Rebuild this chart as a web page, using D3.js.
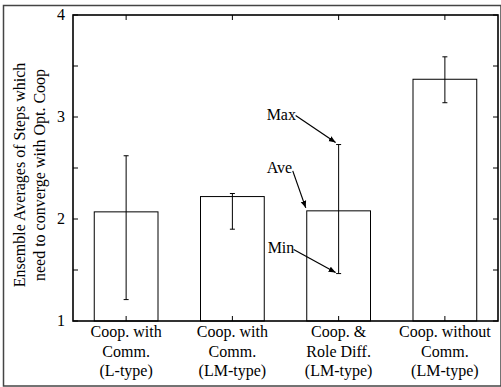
<!DOCTYPE html>
<html>
<head>
<meta charset="utf-8">
<script src="https://cdn.jsdelivr.net/npm/d3@7"></script>
<style>
  body { margin: 0; background: #fff; }
  svg { display: block; font-family: "Liberation Serif", "DejaVu Serif", serif; }
</style>
</head>
<body>
<div id="chart"></div>
<script>
// category labels, one array of lines per bar
const categories = [
  ["Coop. with", "Comm.", "(L-type)"],
  ["Coop. with", "Comm.", "(LM-type)"],
  ["Coop. &", "Role Diff.", "(LM-type)"],
  ["Coop. without", "Comm.", "(LM-type)"]
]
const aveSteps = [2.07, 2.22, 2.08, 3.37]
const maxSteps = [2.62, 2.25, 2.73, 3.59]
const minSteps = [1.21, 1.90, 1.465, 3.14]
const yTicks = [1, 1.5, 2, 2.5, 3, 3.5, 4]
const yTickLabels = ["1", "", "2", "", "3", "", "4"]
const yTitle = ["Ensemble Averages of Steps which", "need to converge with Opt. Coop"]
// annotations point at the third bar
const noteBar = 2

const width = 501, height = 387
const margin = {top: 15, right: 3, bottom: 66, left: 73}

const svg = d3.select("#chart").append("svg")
  .attr("width", width)
  .attr("height", height)

const idx = d3.range(categories.length)
const x = d3.scaleBand(idx, [margin.left, width - margin.right]).padding(0)
const y = d3.scaleLinear([1, 4], [height - margin.bottom, margin.top])
const barW = x.bandwidth() * 0.6
const cx = i => x(i) + x.bandwidth() / 2

svg.append("defs").append("marker")
  .attr("id", "arrow")
  .attr("viewBox", "0 0 10 10")
  .attr("refX", 10).attr("refY", 5)
  .attr("markerWidth", 7).attr("markerHeight", 7)
  .attr("markerUnits", "userSpaceOnUse")
  .attr("orient", "auto")
  .append("path")
    .attr("d", "M0,1L10,5L0,9z")
    .attr("fill", "black")

// outer frame
svg.append("rect")
  .attr("x", 3.5).attr("y", 5.5)
  .attr("width", width - 3.5).attr("height", height - 6.5)
  .attr("fill", "none")
  .attr("stroke", "#444")
  .attr("stroke-width", 1.5)

// bars
svg.append("g")
  .selectAll("rect")
  .data(idx)
  .join("rect")
    .attr("x", i => cx(i) - barW / 2)
    .attr("y", i => y(aveSteps[i]))
    .attr("width", barW)
    .attr("height", i => y(1) - y(aveSteps[i]))
    .attr("fill", "white")
    .attr("stroke", "black")
    .attr("stroke-width", 1)

// error bars
const err = svg.append("g")
  .attr("stroke", "black")
  .attr("stroke-width", 1)
err.selectAll("line.v")
  .data(idx)
  .join("line")
    .attr("class", "v")
    .attr("x1", cx).attr("x2", cx)
    .attr("y1", i => y(maxSteps[i])).attr("y2", i => y(minSteps[i]))
for (const vals of [maxSteps, minSteps]) {
  err.append("g").selectAll("line")
    .data(idx)
    .join("line")
      .attr("x1", i => cx(i) - 2.5).attr("x2", i => cx(i) + 2.5)
      .attr("y1", i => y(vals[i])).attr("y2", i => y(vals[i]))
}

// plot frame and ticks
const frame = svg.append("g")
  .attr("stroke", "black")
frame.append("rect")
  .attr("x", margin.left).attr("y", margin.top)
  .attr("width", width - margin.left - margin.right)
  .attr("height", height - margin.top - margin.bottom)
  .attr("fill", "none")
  .attr("stroke-width", 1.6)

const tickLen = 5
const x0 = margin.left, x1 = width - margin.right
const yB = y(1), yT = y(4)
frame.append("g").selectAll("line")
  .data(yTicks)
  .join("line")
    .attr("x1", x0).attr("x2", x0 + tickLen)
    .attr("y1", d => y(d)).attr("y2", d => y(d))
frame.append("g").selectAll("line")
  .data(yTicks)
  .join("line")
    .attr("x1", x1).attr("x2", x1 - tickLen)
    .attr("y1", d => y(d)).attr("y2", d => y(d))
frame.append("g").selectAll("line")
  .data(idx)
  .join("line")
    .attr("x1", cx).attr("x2", cx)
    .attr("y1", yB).attr("y2", yB - tickLen)
frame.append("g").selectAll("line")
  .data(idx)
  .join("line")
    .attr("x1", cx).attr("x2", cx)
    .attr("y1", yT).attr("y2", yT + tickLen)

// tick labels
svg.append("g")
  .attr("font-size", 16)
  .attr("text-anchor", "end")
  .selectAll("text")
  .data(yTicks.map((d, i) => [d, yTickLabels[i]]).filter(d => d[1]))
  .join("text")
    .attr("x", margin.left - 8)
    .attr("y", d => y(d[0]) + 5)
    .text(d => d[1])

svg.append("g")
  .attr("font-size", 16)
  .attr("text-anchor", "middle")
  .selectAll("text")
  .data(idx)
  .join("text")
    .attr("transform", i => `translate(${cx(i)},${yB + 16})`)
    .selectAll("tspan")
    .data(i => categories[i])
    .join("tspan")
      .attr("x", 0)
      .attr("y", (d, j) => j * 19.5)
      .text(d => d)

// y title
svg.append("text")
  .attr("font-size", 16)
  .attr("text-anchor", "middle")
  .attr("transform", `translate(25,${(yT + yB) / 2 + 7}) rotate(-90)`)
  .selectAll("tspan")
  .data(yTitle)
  .join("tspan")
    .attr("x", 0)
    .attr("y", (d, j) => j * 20)
    .text(d => d)

// annotations
const bx = cx(noteBar)
const notes = [
  {label: "Max", tx: bx, ty: y(maxSteps[noteBar]), dx: -72, dy: -30, sx: -43, sy: -29, ex: -3, ey: -2},
  {label: "Ave", tx: bx - barW / 2, ty: y(aveSteps[noteBar]), dx: -40, dy: -43, sx: -14, sy: -40, ex: -1, ey: -3},
  {label: "Min", tx: bx, ty: y(minSteps[noteBar]), dx: -71, dy: -26, sx: -45, sy: -24, ex: -3, ey: -1}
]
const ann = svg.append("g")
ann.selectAll("line")
  .data(notes)
  .join("line")
    .attr("x1", d => d.tx + d.sx).attr("y1", d => d.ty + d.sy)
    .attr("x2", d => d.tx + d.ex).attr("y2", d => d.ty + d.ey)
    .attr("stroke", "black")
    .attr("stroke-width", 1.2)
    .attr("marker-end", "url(#arrow)")
ann.selectAll("text")
  .data(notes)
  .join("text")
    .attr("x", d => d.tx + d.dx)
    .attr("y", d => d.ty + d.dy + 5)
    .attr("font-size", 16)
    .text(d => d.label)
</script>
</body>
</html>
